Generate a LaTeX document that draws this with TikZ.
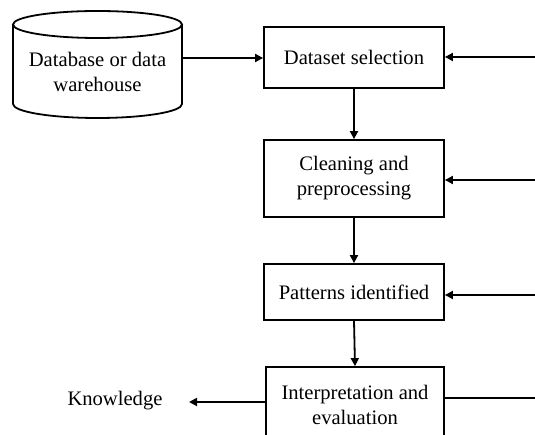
\documentclass[tikz,border=0pt]{standalone}
\usepackage{fontspec}
\setmainfont{Liberation Serif}
\usetikzlibrary{arrows.meta}
\begin{document}
\begin{tikzpicture}[x=1pt,y=-1pt,
  every node/.style={font=\fontsize{20.6}{25}\selectfont, align=center, inner sep=0pt},
  procbox/.style={draw, line width=1.8pt, minimum width=180pt},
  conn/.style={line width=1.8pt, -{Triangle[length=8pt,width=8pt]}},
  plain/.style={line width=1.8pt}]
\useasboundingbox (0,0) rectangle (535,435);
\clip (0,0) rectangle (535,435);
\fill[white] (0,0) rectangle (535,435);
% cylinder
\draw[line width=1.8pt] (13,24.5) -- (13,104) arc[start angle=180,end angle=0,x radius=84.5,y radius=14] -- (182,24.5);
\draw[line width=1.8pt] (97.5,24.5) ellipse[x radius=84.5,y radius=13.5];
\node (db) at (97.5,72) {Database or data\\warehouse};
\coordinate (dbr) at (182,58);
% boxes
\node[procbox, minimum height=61pt] (ds) at (354,57.5) {Dataset selection};
\node[procbox, minimum height=77pt] (cl) at (354,178.5) {Cleaning and\\preprocessing};
\node[procbox, minimum height=56pt] (pi) at (354,292) {Patterns identified};
\node[procbox, minimum height=75pt, minimum width=178pt] (ie) at (355,404.5) {Interpretation and\\evaluation};
\node (kn) at (115,401) {Knowledge};
% right side coordinates
\coordinate (r1) at (540,57);
\coordinate (r2) at (540,180);
\coordinate (r3) at (540,295);
\coordinate (r4) at (540,398);
\coordinate (kl) at (266,402);
\coordinate (kt) at (189,402);
% connectors
\draw[conn] (dbr) -- (dbr -| ds.west);
\draw[conn] (ds.south) -- (cl.north);
\draw[conn] (cl.south) -- (pi.north);
\draw[conn] (pi.south) -- (ie.north);
\draw[conn] (r1) -- (r1 -| ds.east);
\draw[conn] (r2) -- (r2 -| cl.east);
\draw[conn] (r3) -- (r3 -| pi.east);
\draw[plain] (r4) -- (r4 -| ie.east);
\draw[conn] (kl -| ie.west) -- (kt);
\end{tikzpicture}
\end{document}
